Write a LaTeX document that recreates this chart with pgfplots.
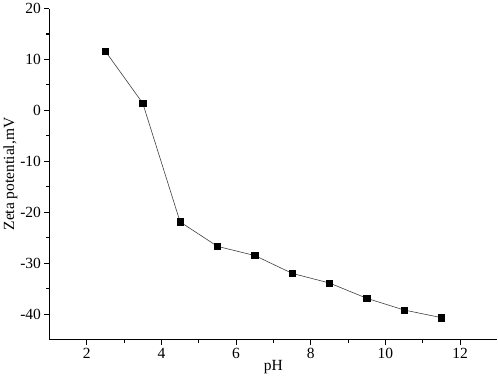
\documentclass[border=0pt]{standalone}
\usepackage{pgfplots}
\pgfplotsset{compat=1.18}
\usepackage{fontspec}
\setmainfont{Liberation Serif}
\begin{document}
\begin{tikzpicture}
\begin{axis}[
  scale only axis,
  width=448pt, height=331pt,
  xmin=1, xmax=13, ymin=-45, ymax=20,
  axis lines*=left,
  axis line style={line width=1.1pt, -},
  xtick={2,4,6,8,10,12},
  ytick={-40,-30,-20,-10,0,10,20},
  minor x tick num=1, minor y tick num=1,
  tick align=outside,
  major tick length=5pt, minor tick length=3pt,
  tick style={line width=1.1pt, black},
  tick label style={font=\fontsize{15.5}{17}\selectfont},
  label style={font=\fontsize{15.5}{17}\selectfont},
  /pgf/number format/assume math mode=true,
  xlabel={pH}, ylabel={Zeta potential,mV},
  xlabel style={yshift=5pt},
  ylabel style={yshift=-4pt},
  clip=false,
]
\addplot[color=black!75, line width=0.6pt, mark=square*, mark size=3.2pt, mark options={fill=black, draw=black}]
coordinates {
(2.5,11.6) (3.5,1.4) (4.5,-21.9) (5.5,-26.7) (6.5,-28.5) (7.5,-32) (8.5,-33.9) (9.5,-36.9) (10.5,-39.2) (11.5,-40.7)
};
\end{axis}
\end{tikzpicture}
\end{document}
